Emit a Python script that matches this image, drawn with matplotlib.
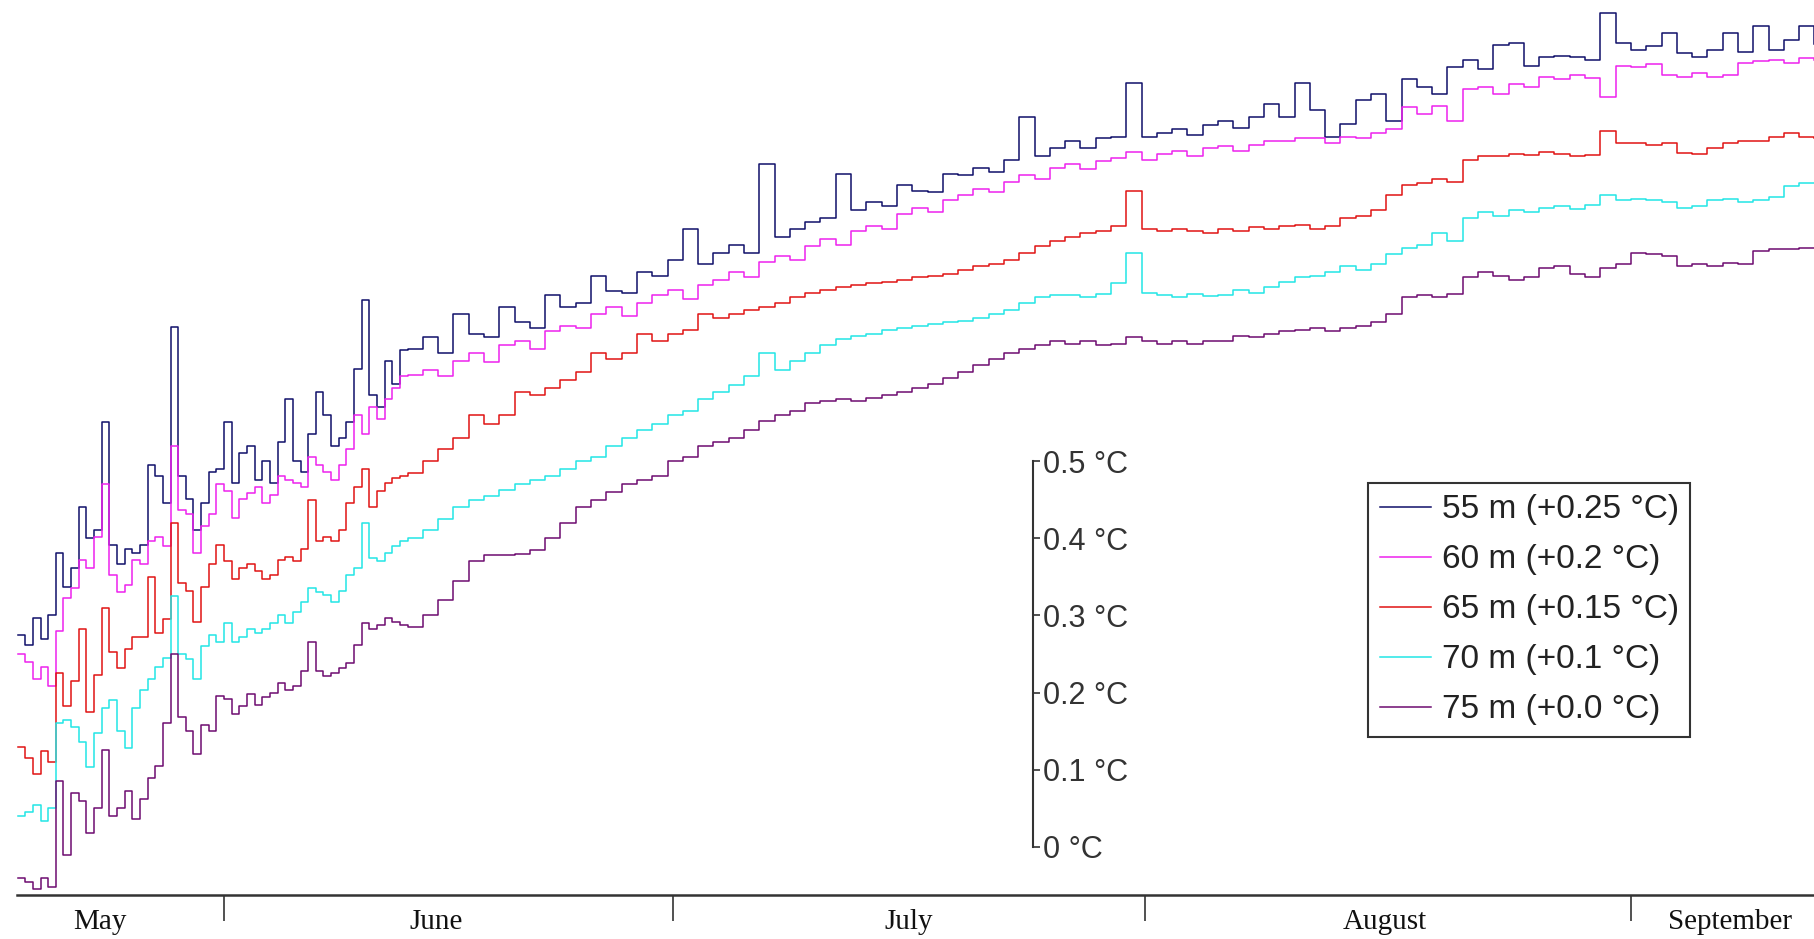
import numpy as np
from matplotlib import pyplot as plt

# Sampling days (day 0 = 1 May): half-day readings at the noisy start, daily after
days = np.concatenate([np.arange(17.5, 43, 0.5), np.arange(43, 136, 1)])

# Values as drawn (offsets already included), in degC above the scale bar's 0 mark
y55 = [0.275, 0.262, 0.297, 0.270, 0.300, 0.381, 0.337, 0.362, 0.441, 0.400, 0.411, 0.550, 0.391,
       0.367, 0.386, 0.381, 0.391, 0.495, 0.480, 0.446, 0.674, 0.481, 0.451, 0.411, 0.446,
       0.486, 0.490, 0.550, 0.471, 0.510, 0.520, 0.476, 0.500, 0.471, 0.525, 0.580, 0.500,
       0.486, 0.535, 0.590, 0.560, 0.520, 0.530, 0.550, 0.619, 0.709, 0.585, 0.570, 0.629,
       0.600, 0.644,
       0.645, 0.660, 0.640, 0.690, 0.665, 0.660, 0.700, 0.680, 0.672, 0.715,
       0.700, 0.705, 0.740, 0.720, 0.718, 0.745, 0.740, 0.760, 0.800, 0.755,
       0.770, 0.780, 0.770, 0.885, 0.790, 0.800, 0.810, 0.815, 0.872, 0.825,
       0.835, 0.830, 0.858, 0.850, 0.848, 0.872, 0.870, 0.880, 0.875, 0.890,
       0.945, 0.895, 0.905, 0.915, 0.905, 0.918, 0.920, 0.990, 0.920, 0.925,
       0.930, 0.922, 0.935, 0.940, 0.932, 0.945, 0.962, 0.945, 0.990, 0.955,
       0.920, 0.937, 0.968, 0.976, 0.940, 0.995, 0.985, 0.975, 1.011, 1.020,
       1.008, 1.039, 1.041, 1.012, 1.024, 1.025, 1.024, 1.020, 1.080, 1.041,
       1.032, 1.037, 1.054, 1.028, 1.024, 1.032, 1.054, 1.030, 1.063, 1.032,
       1.045, 1.063, 1.040]

y60 = [0.250, 0.240, 0.218, 0.233, 0.208, 0.280, 0.322, 0.335, 0.372, 0.362, 0.401, 0.470, 0.352,
       0.330, 0.340, 0.372, 0.367, 0.396, 0.401, 0.390, 0.520, 0.436, 0.431, 0.381, 0.416,
       0.431, 0.470, 0.461, 0.426, 0.451, 0.458, 0.466, 0.446, 0.456, 0.481, 0.476, 0.471,
       0.466, 0.505, 0.495, 0.486, 0.476, 0.495, 0.515, 0.560, 0.535, 0.570, 0.555, 0.580,
       0.595, 0.610,
       0.612, 0.618, 0.610, 0.630, 0.640, 0.628, 0.650, 0.655, 0.645, 0.668,
       0.675, 0.672, 0.690, 0.700, 0.688, 0.705, 0.715, 0.722, 0.710, 0.728,
       0.735, 0.745, 0.738, 0.758, 0.765, 0.760, 0.778, 0.788, 0.780, 0.798,
       0.805, 0.800, 0.820, 0.828, 0.822, 0.838, 0.845, 0.852, 0.848, 0.862,
       0.870, 0.865, 0.880, 0.885, 0.878, 0.888, 0.892, 0.900, 0.890, 0.898,
       0.902, 0.895, 0.905, 0.908, 0.902, 0.910, 0.914, 0.915, 0.918, 0.918,
       0.912, 0.920, 0.918, 0.925, 0.930, 0.958, 0.950, 0.960, 0.940, 0.982,
       0.985, 0.975, 0.988, 0.985, 0.998, 0.995, 1.000, 0.996, 0.972, 1.012,
       1.010, 1.014, 1.000, 0.998, 1.002, 0.998, 1.000, 1.015, 1.018, 1.020,
       1.016, 1.022, 1.020]

y65 = [0.130, 0.115, 0.095, 0.124, 0.110, 0.225, 0.183, 0.215, 0.282, 0.175, 0.223, 0.310, 0.253,
       0.232, 0.257, 0.272, 0.272, 0.350, 0.277, 0.295, 0.420, 0.342, 0.332, 0.292, 0.337,
       0.367, 0.391, 0.371, 0.347, 0.362, 0.367, 0.357, 0.347, 0.352, 0.372, 0.376, 0.371,
       0.386, 0.450, 0.396, 0.401, 0.396, 0.411, 0.446, 0.466, 0.490, 0.440, 0.461, 0.472,
       0.478, 0.481,
       0.485, 0.500, 0.515, 0.530, 0.560, 0.548, 0.560, 0.590, 0.585, 0.595,
       0.605, 0.615, 0.640, 0.632, 0.640, 0.665, 0.655, 0.665, 0.670, 0.690,
       0.685, 0.690, 0.695, 0.700, 0.705, 0.712, 0.718, 0.722, 0.725, 0.728,
       0.730, 0.732, 0.735, 0.738, 0.740, 0.742, 0.748, 0.752, 0.755, 0.760,
       0.770, 0.778, 0.785, 0.790, 0.795, 0.798, 0.805, 0.850, 0.800, 0.798,
       0.800, 0.798, 0.796, 0.800, 0.798, 0.803, 0.800, 0.805, 0.806, 0.800,
       0.805, 0.815, 0.818, 0.825, 0.845, 0.858, 0.860, 0.865, 0.862, 0.890,
       0.895, 0.895, 0.898, 0.897, 0.900, 0.898, 0.895, 0.897, 0.928, 0.912,
       0.912, 0.910, 0.912, 0.899, 0.898, 0.905, 0.912, 0.914, 0.915, 0.920,
       0.925, 0.920, 0.918]

y70 = [0.040, 0.045, 0.055, 0.034, 0.050, 0.160, 0.165, 0.155, 0.136, 0.104, 0.148, 0.180, 0.190,
       0.150, 0.128, 0.180, 0.203, 0.218, 0.233, 0.245, 0.325, 0.250, 0.243, 0.218, 0.260,
       0.275, 0.265, 0.290, 0.265, 0.272, 0.282, 0.277, 0.283, 0.290, 0.300, 0.290, 0.305,
       0.317, 0.335, 0.330, 0.327, 0.317, 0.332, 0.352, 0.362, 0.420, 0.375, 0.370, 0.381,
       0.390, 0.396,
       0.400, 0.410, 0.425, 0.440, 0.450, 0.455, 0.462, 0.470, 0.475, 0.480,
       0.490, 0.500, 0.505, 0.520, 0.530, 0.540, 0.548, 0.560, 0.565, 0.580,
       0.590, 0.598, 0.610, 0.640, 0.618, 0.630, 0.640, 0.650, 0.658, 0.662,
       0.665, 0.670, 0.672, 0.675, 0.678, 0.680, 0.682, 0.685, 0.690, 0.695,
       0.705, 0.712, 0.715, 0.715, 0.712, 0.716, 0.730, 0.770, 0.718, 0.715,
       0.712, 0.716, 0.714, 0.715, 0.722, 0.718, 0.725, 0.732, 0.738, 0.740,
       0.745, 0.752, 0.748, 0.755, 0.768, 0.776, 0.780, 0.795, 0.785, 0.815,
       0.822, 0.818, 0.825, 0.822, 0.828, 0.830, 0.826, 0.832, 0.845, 0.838,
       0.840, 0.838, 0.836, 0.828, 0.830, 0.838, 0.840, 0.836, 0.838, 0.842,
       0.856, 0.860, 0.860]

y75 = [-0.040, -0.045, -0.055, -0.040, -0.052, 0.085, -0.010, 0.070, 0.060, 0.018, 0.050, 0.125, 0.040,
       0.050, 0.072, 0.036, 0.062, 0.090, 0.105, 0.160, 0.250, 0.168, 0.150, 0.120, 0.158,
       0.150, 0.196, 0.192, 0.172, 0.182, 0.198, 0.184, 0.194, 0.200, 0.212, 0.204, 0.208,
       0.228, 0.265, 0.228, 0.222, 0.225, 0.232, 0.238, 0.262, 0.290, 0.282, 0.288, 0.296,
       0.292, 0.287,
       0.285, 0.300, 0.320, 0.345, 0.370, 0.378, 0.378, 0.380, 0.385, 0.400,
       0.420, 0.440, 0.450, 0.460, 0.470, 0.475, 0.480, 0.500, 0.505, 0.520,
       0.525, 0.530, 0.540, 0.552, 0.560, 0.565, 0.575, 0.578, 0.580, 0.578,
       0.582, 0.585, 0.590, 0.595, 0.600, 0.608, 0.615, 0.625, 0.632, 0.640,
       0.645, 0.650, 0.655, 0.652, 0.656, 0.650, 0.652, 0.660, 0.655, 0.652,
       0.655, 0.652, 0.655, 0.656, 0.662, 0.660, 0.664, 0.668, 0.670, 0.672,
       0.668, 0.672, 0.675, 0.680, 0.690, 0.712, 0.715, 0.713, 0.716, 0.738,
       0.745, 0.740, 0.735, 0.738, 0.750, 0.752, 0.742, 0.738, 0.750, 0.755,
       0.770, 0.768, 0.765, 0.752, 0.755, 0.752, 0.756, 0.755, 0.772, 0.775,
       0.775, 0.776, 0.776]

labels = ["55 m (+0.25 °C)", "60 m (+0.2 °C)", "65 m (+0.15 °C)", "70 m (+0.1 °C)", "75 m (+0.0 °C)"]
colors = ["#10106a", "#ee22ee", "#e01414", "#22e6e6", "#6e0c70"]

# month boundary ticks as placed in the picture, and the month name positions
month_ticks = [31, 60.36, 91.22, 123]
month_names = ["May", "June", "July", "August", "September"]
month_label_pos = [22.9, 44.9, 75.8, 106.9, 129.5]

scale_ticks = [0, 0.1, 0.2, 0.3, 0.4, 0.5]
scale_labels = ["0 °C", "0.1 °C", "0.2 °C", "0.3 °C", "0.4 °C", "0.5 °C"]
scale_bar_day = 83.9

fig = plt.figure(figsize=(18.14, 9.39), dpi=100)
ax = fig.add_axes([17 / 1814, 44 / 939, 1797 / 1814, 895 / 939])

for vals, lab, col in zip([y55, y60, y65, y70, y75], labels, colors):
    ax.plot(days, vals, color=col, lw=1.1, drawstyle="steps-post", label=lab)

ax.set_xlim(17.46, 134.97)
ax.set_ylim(-0.0622, 1.0972)
for side in ["top", "right", "left"]:
    ax.spines[side].set_visible(False)
ax.spines["bottom"].set_color("#333333")
ax.spines["bottom"].set_linewidth(1.8)
ax.set_yticks([])

# month boundaries as ticks, month names between them
ax.set_xticks(month_ticks)
ax.set_xticklabels([])
ax.tick_params(axis="x", which="major", direction="out", length=19, width=1.2, color="#333333")
ax.set_xticks(month_label_pos, minor=True)
ax.set_xticklabels(month_names, minor=True, family="Liberation Serif", fontsize=21, color="#111111")
ax.tick_params(axis="x", which="minor", length=0, pad=10)

# scale bar in the middle of the plot
bar = ax.twinx()
bar.set_ylim(ax.get_ylim())
for side in ["top", "left", "bottom"]:
    bar.spines[side].set_visible(False)
bar.spines["right"].set_position(("data", scale_bar_day))
bar.spines["right"].set_bounds(0, 0.5)
bar.spines["right"].set_color("#333333")
bar.spines["right"].set_linewidth(1.5)
bar.set_yticks(scale_ticks)
bar.set_yticklabels(scale_labels, family="Liberation Sans", fontsize=22, color="#333333")
bar.tick_params(axis="y", direction="out", length=5, width=1.2, pad=2, color="#333333")

leg = ax.legend(loc="lower left", bbox_to_anchor=(1368 / 1814, (939 - 737) / 939),
                bbox_transform=fig.transFigure, fancybox=False, framealpha=1,
                edgecolor="#333333", prop={"family": "Liberation Sans", "size": 24},
                handlelength=1.53, handletextpad=0.33, labelspacing=0.57,
                borderpad=0.35, borderaxespad=0)
leg.get_frame().set_linewidth(1.5)
for t in leg.get_texts():
    t.set_color("#222222")

fig.savefig("out.png", dpi=100)
